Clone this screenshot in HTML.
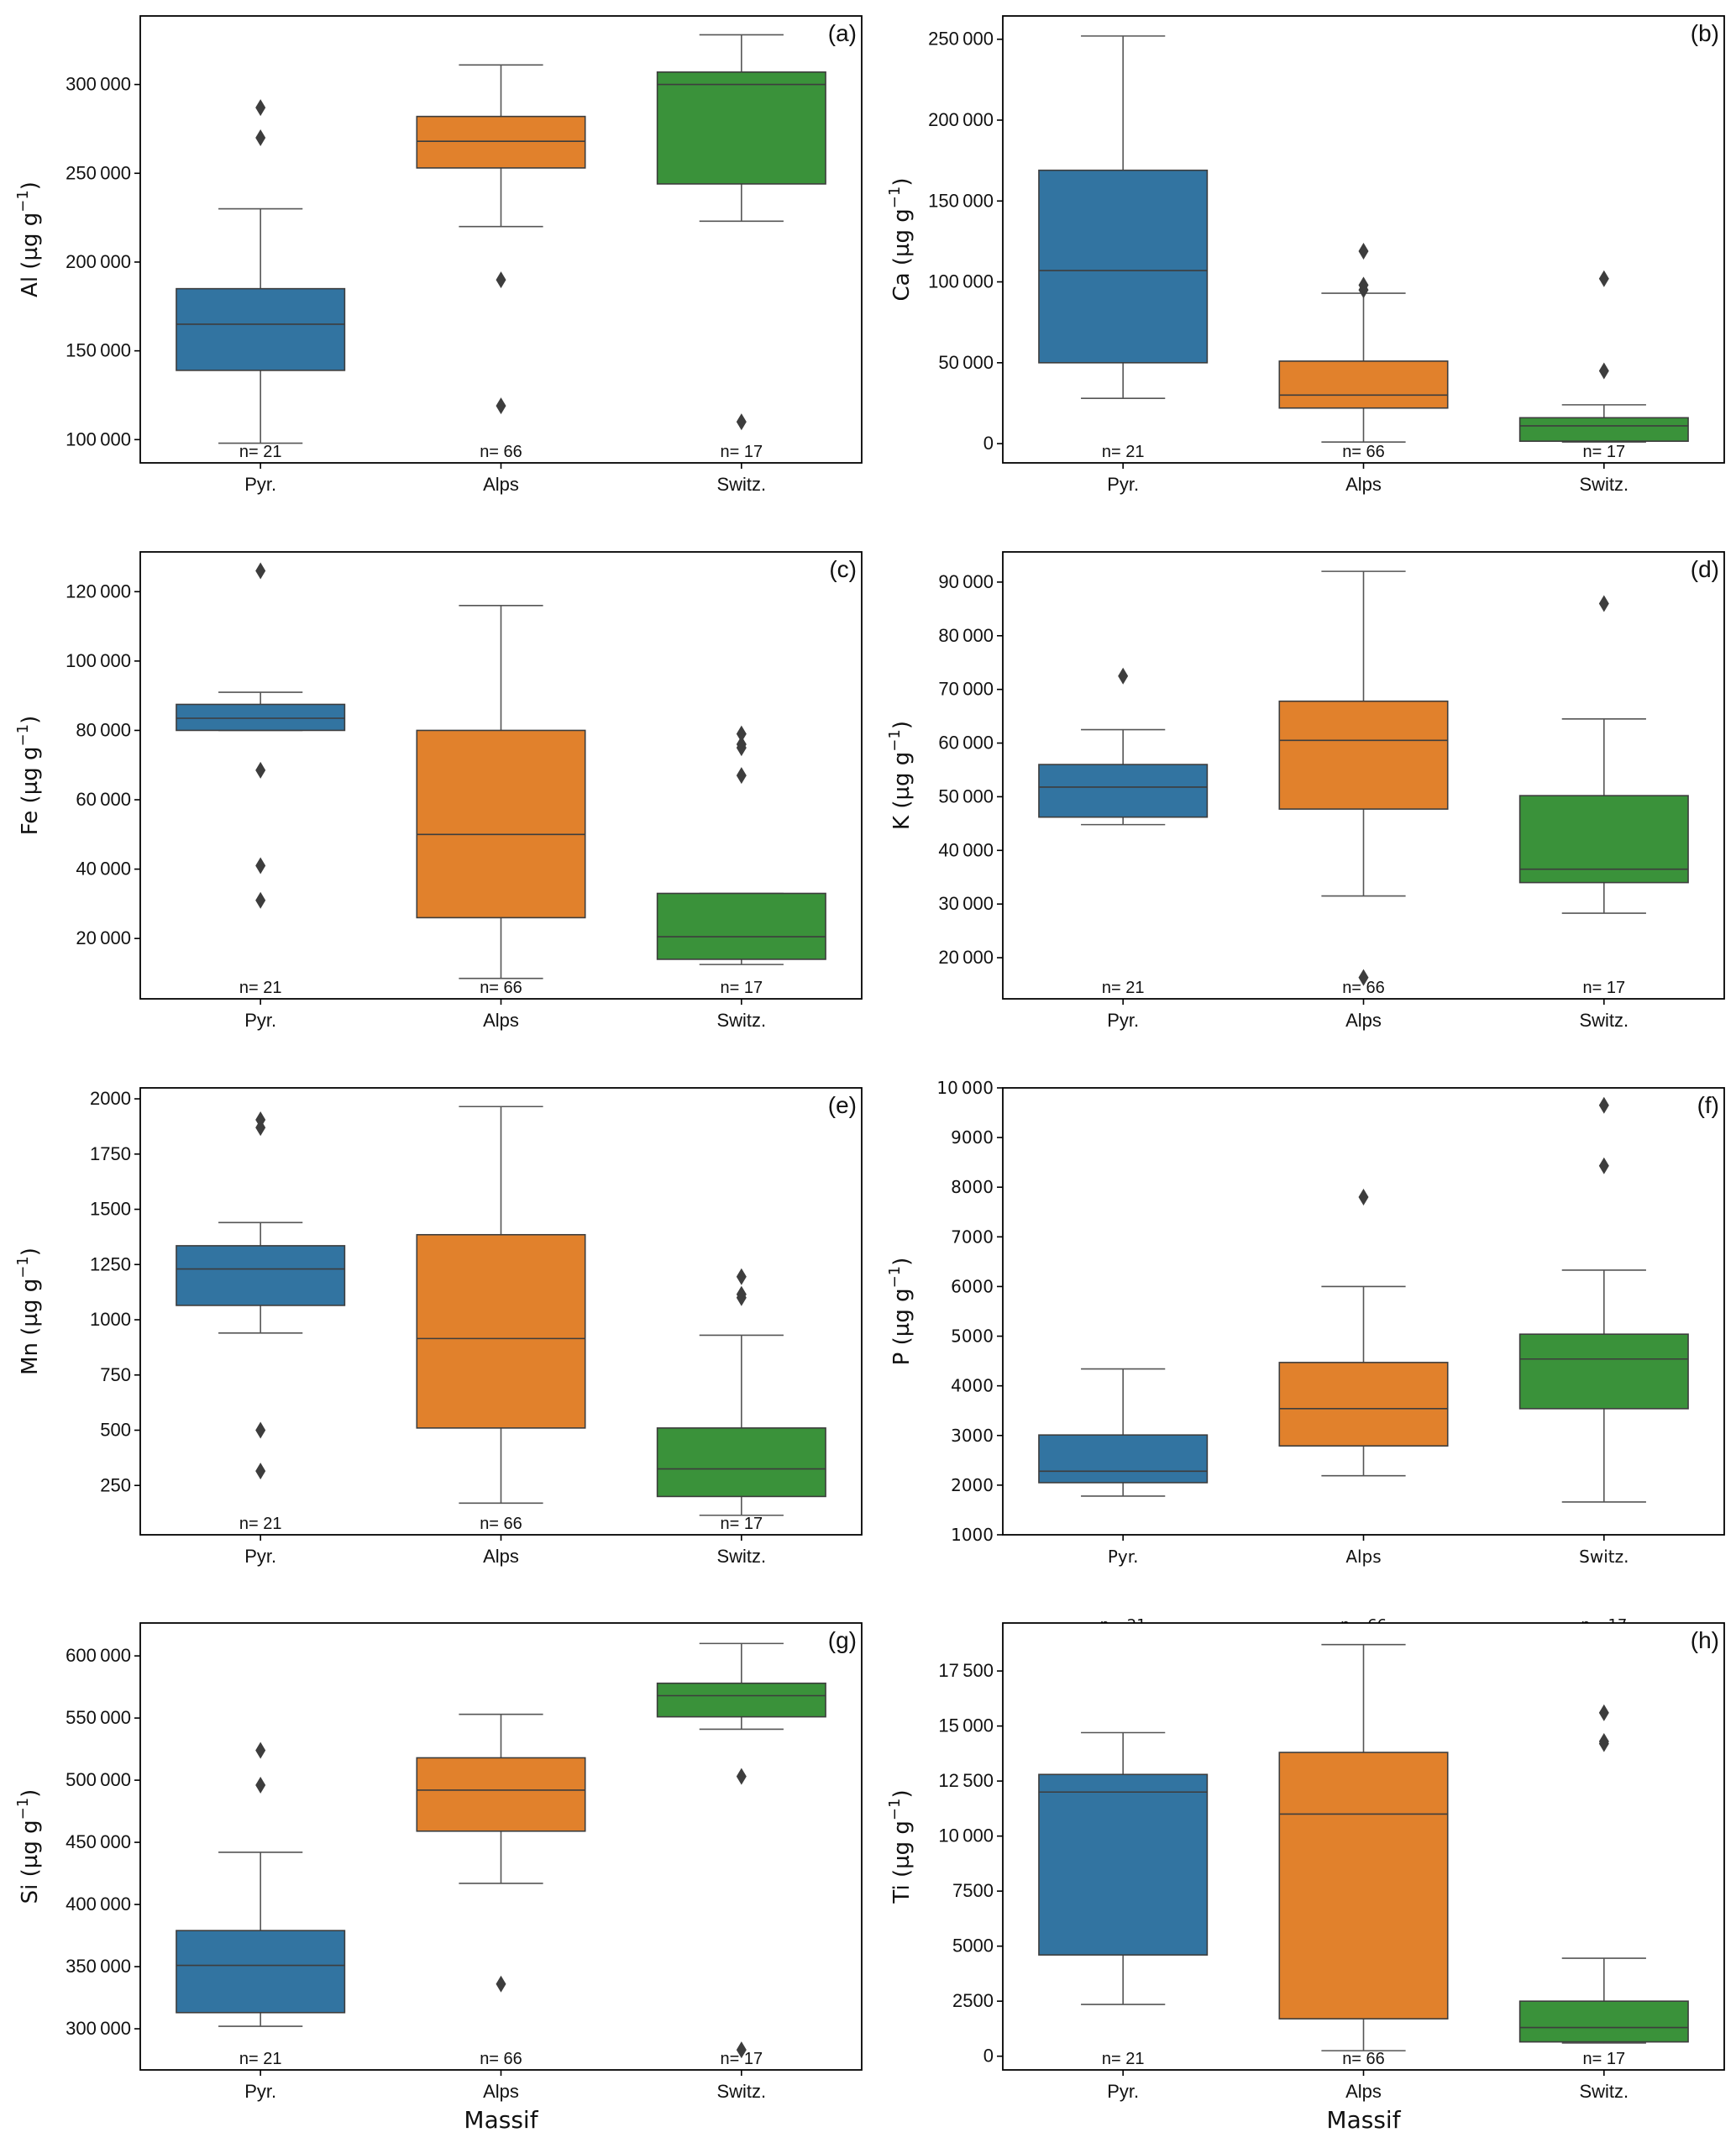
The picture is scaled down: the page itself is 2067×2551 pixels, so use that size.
<!DOCTYPE html>
<html><head><meta charset="utf-8"><title>Element boxplots by massif</title>
<style>html,body{margin:0;padding:0;background:#fff}svg{display:block}</style></head>
<body>
<svg id="chart" width="2067" height="2551" viewBox="0 0 2067 2551" xmlns="http://www.w3.org/2000/svg"></svg>
<script>
const categories = ["Pyr.", "Alps", "Switz."];
const counts = [21, 66, 17];
const colors = ["#3274a1", "#e1812c", "#3a923a"];

// stats per category: [whiskerLow, q1, median, q3, whiskerHigh]
const statsAl = [[98000,139000,165000,185000,230000],[220000,253000,268000,282000,311000],[223000,244000,300000,307000,328000]];
const outliersAl = [[270000,287000],[190000,119000],[110000]];
const ticksAl = [100000,150000,200000,250000,300000];

const statsCa = [[28000,50000,107000,169000,252000],[1000,22000,30000,51000,93000],[1000,1500,11000,16000,24000]];
const outliersCa = [[],[95000,98000,119000],[45000,102000]];
const ticksCa = [0,50000,100000,150000,200000,250000];

const statsFe = [[80000,80000,83500,87500,91000],[8500,26000,50000,80000,116000],[12500,14000,20500,33000,33000]];
const outliersFe = [[126000,68500,41000,31000],[],[67000,75000,76000,79000]];
const ticksFe = [20000,40000,60000,80000,100000,120000];

const statsK = [[44800,46200,51800,56000,62500],[31500,47700,60500,67800,92000],[28300,34000,36500,50200,64500]];
const outliersK = [[72500],[16300],[86000]];
const ticksK = [20000,30000,40000,50000,60000,70000,80000,90000];

const statsMn = [[940,1065,1230,1335,1440],[170,510,915,1385,1965],[115,200,325,510,930]];
const outliersMn = [[1870,1905,500,315],[],[1100,1115,1195]];
const ticksMn = [250,500,750,1000,1250,1500,1750,2000];

const statsP = [[1780,2050,2280,3010,4340],[2190,2790,3540,4470,6000],[1660,3540,4540,5040,6330]];
const outliersP = [[],[7800],[8430,9650]];
const ticksP = [1000,2000,3000,4000,5000,6000,7000,8000,9000,10000];

const statsSi = [[302000,313000,351000,379000,442000],[417000,459000,492000,518000,553000],[541000,551000,568000,578000,610000]];
const outliersSi = [[496000,524000],[336000],[503000,283000]];
const ticksSi = [300000,350000,400000,450000,500000,550000,600000];

const statsTi = [[2350,4600,12000,12800,14700],[250,1700,11000,13800,18700],[600,650,1300,2500,4450]];
const outliersTi = [[],[],[14200,14300,15600]];
const ticksTi = [0,2500,5000,7500,10000,12500,15000,17500];

const panels = [
 {id:"a",el:"Al",stats:statsAl,out:outliersAl,ticks:ticksAl,dom:[86900,338600],col:0,row:0,narrow:true,nY:null},
 {id:"b",el:"Ca",stats:statsCa,out:outliersCa,ticks:ticksCa,dom:[-11900,264400],col:1,row:0,narrow:true,nY:null},
 {id:"c",el:"Fe",stats:statsFe,out:outliersFe,ticks:ticksFe,dom:[2600,131460],col:0,row:1,narrow:true,nY:null},
 {id:"d",el:"K",stats:statsK,out:outliersK,ticks:ticksK,dom:[12335,95621],col:1,row:1,narrow:true,nY:null},
 {id:"e",el:"Mn",stats:statsMn,out:outliersMn,ticks:ticksMn,dom:[26.6,2049.6],col:0,row:2,narrow:true,nY:null},
 {id:"f",el:"P",stats:statsP,out:outliersP,ticks:ticksP,dom:[1000,10000],col:1,row:2,narrow:false,nY:1940},
 {id:"g",el:"Si",stats:statsSi,out:outliersSi,ticks:ticksSi,dom:[266900,626470],col:0,row:3,narrow:true,nY:null},
 {id:"h",el:"Ti",stats:statsTi,out:outliersTi,ticks:ticksTi,dom:[-623,19680],col:1,row:3,narrow:true,nY:null}
];

const NS = "http://www.w3.org/2000/svg";
const svg = document.getElementById("chart");
const X0 = [167, 1194], W = 859, Y0 = [19, 657, 1295, 1932], H = 532;

function mk(tag, attrs, parent, text){
  const e = document.createElementNS(NS, tag);
  for (const k in attrs) e.setAttribute(k, attrs[k]);
  if (text !== undefined) e.textContent = text;
  parent.appendChild(e);
  return e;
}
function fmt(v){
  if (Math.abs(v) >= 10000){
    return String(v).replace(/\B(?=(\d{3})+(?!\d))/g, "\u2009");
  }
  return String(v);
}

const order = [5,0,1,2,3,4,6,7];
order.forEach(pi => {
  const p = panels[pi];
  const x0 = X0[p.col], y0 = Y0[p.row];
  const yS = v => y0 + H - (v - p.dom[0]) / (p.dom[1] - p.dom[0]) * H;
  const xC = i => x0 + W * (2*i + 1) / 6;
  const g = mk("g", {}, svg);
  
  
  const bg = mk("rect", {x:x0, y:y0, width:W, height:H, fill:"#fff"}, g);
  
  
  const tickFont = p.narrow ? "'Liberation Sans Narrow','Liberation Sans',sans-serif" : "'DejaVu Sans',sans-serif";
  p.ticks.forEach(t => {
    const y = yS(t);
    const tl = mk("line", {x1:x0-7, x2:x0, y1:y, y2:y, stroke:"#000", "stroke-width":1.6}, g);
    
    
    const tx = mk("text", {x:x0-11, y:y+7, "text-anchor":"end", "font-family":tickFont, "font-size":p.narrow?22:20, fill:"#111"}, g, fmt(t));
    
    
  });
  p.stats.forEach((s, i) => {
    const cx = xC(i), bw = W/3*0.7, cw = bw/2;
    const bx = mk("g", {}, g);
    
    
    mk("line", {x1:cx, x2:cx, y1:yS(s[0]), y2:yS(s[1]), stroke:"#555", "stroke-width":1.6}, bx);
    mk("line", {x1:cx, x2:cx, y1:yS(s[3]), y2:yS(s[4]), stroke:"#555", "stroke-width":1.6}, bx);
    mk("line", {x1:cx-cw/2, x2:cx+cw/2, y1:yS(s[0]), y2:yS(s[0]), stroke:"#555", "stroke-width":1.6}, bx);
    mk("line", {x1:cx-cw/2, x2:cx+cw/2, y1:yS(s[4]), y2:yS(s[4]), stroke:"#555", "stroke-width":1.6}, bx);
    mk("rect", {x:cx-bw/2, y:yS(s[3]), width:bw, height:Math.max(1, yS(s[1])-yS(s[3])), fill:colors[i], stroke:"#3d3d3d", "stroke-width":1.6}, bx);
    mk("line", {x1:cx-bw/2, x2:cx+bw/2, y1:yS(s[2]), y2:yS(s[2]), stroke:"#3d3d3d", "stroke-width":1.6}, bx);
    p.out[i].forEach(v => {
      const y = yS(v);
      const d = mk("polygon", {points:`${cx},${y-10} ${cx+6},${y} ${cx},${y+10} ${cx-6},${y}`, fill:"#3d3d3d"}, bx);
      
      
    });
    const ny = p.nY !== null ? p.nY : y0 + H - 7;
    const nt = mk("text", {x:cx, y:ny, "text-anchor":"middle", "font-family":tickFont, "font-size":p.narrow?20:18, fill:"#111"}, g, "n= " + counts[i]);
    
    
    const xt = mk("line", {x1:cx, x2:cx, y1:y0+H, y2:y0+H+7, stroke:"#000", "stroke-width":1.6}, g);
    
    
    const xl = mk("text", {x:cx, y:y0+H+33, "text-anchor":"middle", "font-family":tickFont, "font-size":p.narrow?22:20, fill:"#111"}, g, categories[i]);
    
    
  });
  const fr = mk("rect", {x:x0, y:y0, width:W, height:H, fill:"none", stroke:"#000", "stroke-width":1.8}, g);
  
  
  const pl = mk("text", {x:x0+W-6, y:y0+30, "text-anchor":"end", "font-family":"'Liberation Sans Narrow','Liberation Sans',sans-serif", "font-size":28, fill:"#111"}, g, "(" + p.id + ")");
  
  
  const lx = p.col === 0 ? 44 : 1082;
  const yl = mk("text", {x:lx, y:y0+H/2, transform:`rotate(-90 ${lx} ${y0+H/2})`, "text-anchor":"middle", "font-family":"'DejaVu Sans',sans-serif", "font-size":26, fill:"#111"}, g);
  
  
  yl.appendChild(document.createTextNode(p.el + " (µg g"));
  mk("tspan", {"font-size":18, dy:-11}, yl, "−1");
  mk("tspan", {dy:11}, yl, ")");
});
[0,1].forEach(c => {
  const t = mk("text", {x:X0[c]+W/2, y:2533, "text-anchor":"middle", "font-family":"'DejaVu Sans',sans-serif", "font-size":28, fill:"#111"}, svg, "Massif");
  
  
});
</script>
</body></html>
